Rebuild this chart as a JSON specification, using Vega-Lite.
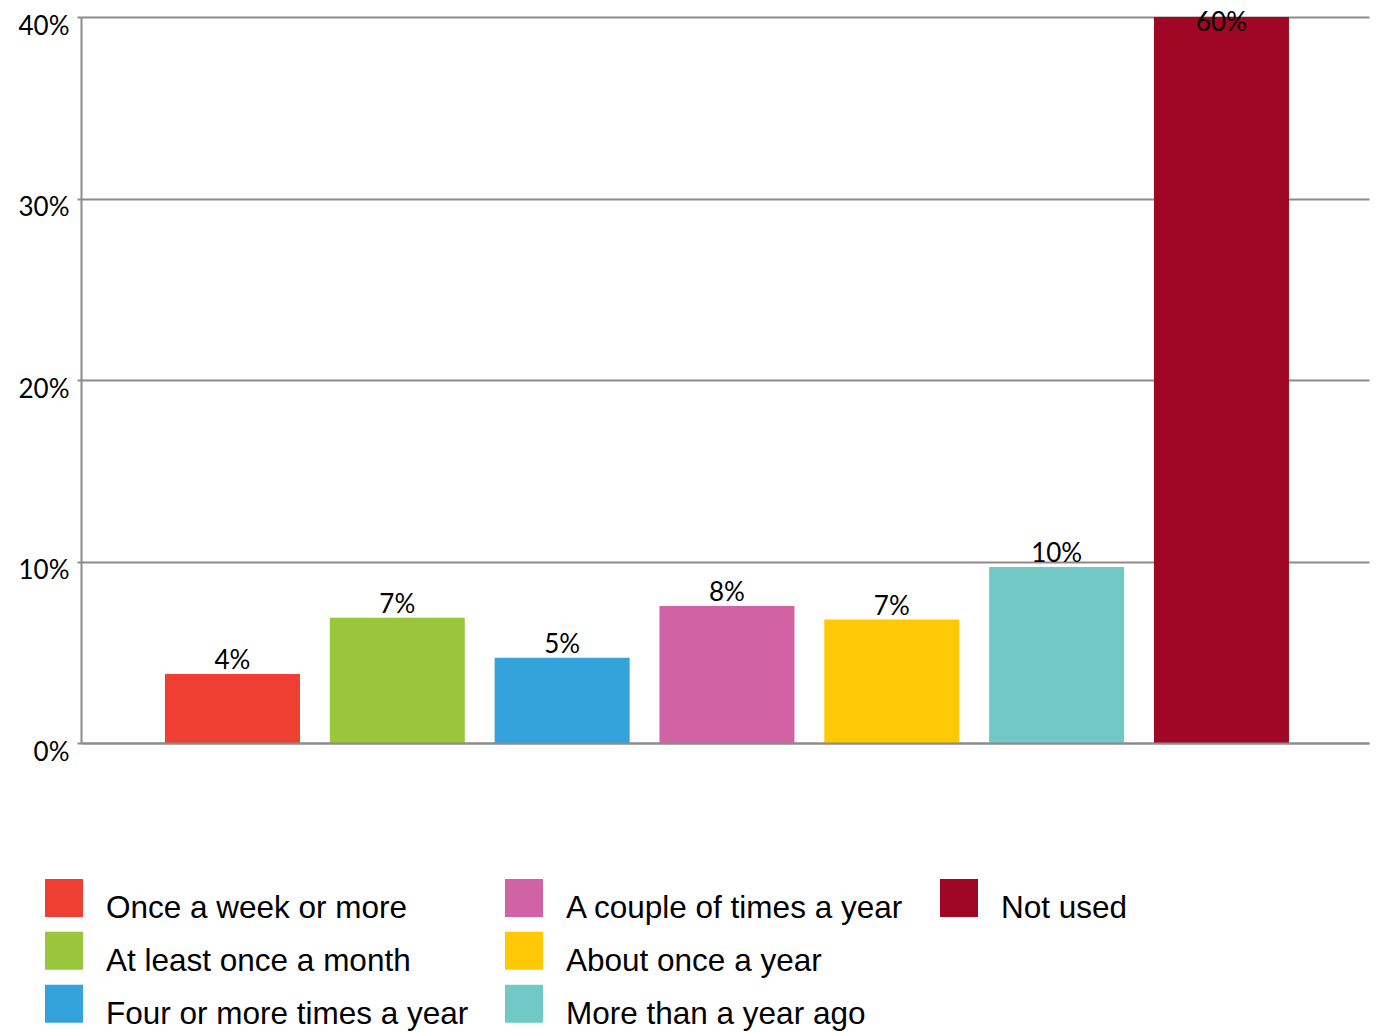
{
  "$schema": "https://vega.github.io/schema/vega-lite/v6.json",
  "width": 1288,
  "height": 726,
  "autosize": {"type": "none"},
  "padding": {"left": 81, "top": 17, "right": 7, "bottom": 289},
  "background": "white",
  "config": {"view": {"stroke": null}, "font": "Lato"},
  "data": {
    "values": [
      {"frequency": "Once a week or more", "share": 0.038},
      {"frequency": "At least once a month", "share": 0.069},
      {"frequency": "Four or more times a year", "share": 0.047},
      {"frequency": "A couple of times a year", "share": 0.0755},
      {"frequency": "About once a year", "share": 0.068},
      {"frequency": "More than a year ago", "share": 0.097},
      {"frequency": "Not used", "share": 0.6}
    ]
  },
  "encoding": {
    "x": {
      "field": "frequency",
      "type": "nominal",
      "sort": null,
      "scale": {"paddingInner": 0.181, "paddingOuter": 0.4975, "align": 0.512},
      "axis": {
        "labels": false,
        "ticks": false,
        "title": null,
        "grid": false,
        "domain": true,
        "domainColor": "#8c8c8c",
        "domainWidth": 2,
        "zindex": 1
      }
    },
    "y": {
      "field": "share",
      "type": "quantitative",
      "scale": {"domain": [0, 0.4], "clamp": true, "nice": false, "zero": true},
      "axis": {
        "values": [0, 0.1, 0.2, 0.3, 0.4],
        "format": ".0%",
        "title": null,
        "grid": true,
        "gridColor": "#8c8c8c",
        "gridWidth": 2,
        "domain": true,
        "domainColor": "#8c8c8c",
        "domainWidth": 2,
        "ticks": true,
        "tickSize": 4,
        "tickColor": "#8c8c8c",
        "tickWidth": 2,
        "labelFont": "Lato",
        "labelFontSize": 26,
        "labelColor": "#000000",
        "labelPadding": 8,
        "labelBaseline": "middle",
        "labelOffset": 9,
        "labelFlush": false,
        "labelOverlap": false
      }
    }
  },
  "layer": [
    {
      "mark": {"type": "bar"},
      "encoding": {
        "color": {
          "field": "frequency",
          "type": "nominal",
          "scale": {
            "domain": [
              "Once a week or more",
              "At least once a month",
              "Four or more times a year",
              "A couple of times a year",
              "About once a year",
              "More than a year ago",
              "Not used",
              " "
            ],
            "range": ["#EF3F33", "#9AC63C", "#34A3DC", "#D163A5", "#FFCA05", "#71C9C5", "#A00724", "#ffffff"]
          },
          "legend": {
            "orient": "none",
            "legendX": -36,
            "legendY": 873,
            "columns": 3,
            "direction": "vertical",
            "title": null,
            "padding": 0,
            "symbolType": "M-1,-1.59H1V0.41H-1Z",
            "symbolSize": 1444,
            "symbolStrokeWidth": 0,
            "symbolOpacity": 1,
            "labelFont": "Liberation Sans",
            "labelFontSize": 31.5,
            "labelColor": "#000000",
            "labelLimit": 600,
            "labelOffset": 23,
            "labelBaseline": "middle",
            "columnPadding": 36,
            "rowPadding": 6,
            "gridAlign": "each"
          }
        }
      }
    },
    {
      "transform": [{"filter": "datum.share <= 0.4"}],
      "mark": {"type": "text", "baseline": "alphabetic", "dy": -5, "font": "Lato", "fontSize": 26, "color": "#000000"},
      "encoding": {"text": {"field": "share", "type": "quantitative", "format": ".0%"}}
    },
    {
      "transform": [{"filter": "datum.share > 0.4"}],
      "mark": {"type": "text", "baseline": "alphabetic", "dy": 14, "font": "Lato", "fontSize": 26, "color": "#000000"},
      "encoding": {"text": {"field": "share", "type": "quantitative", "format": ".0%"}}
    }
  ]
}
